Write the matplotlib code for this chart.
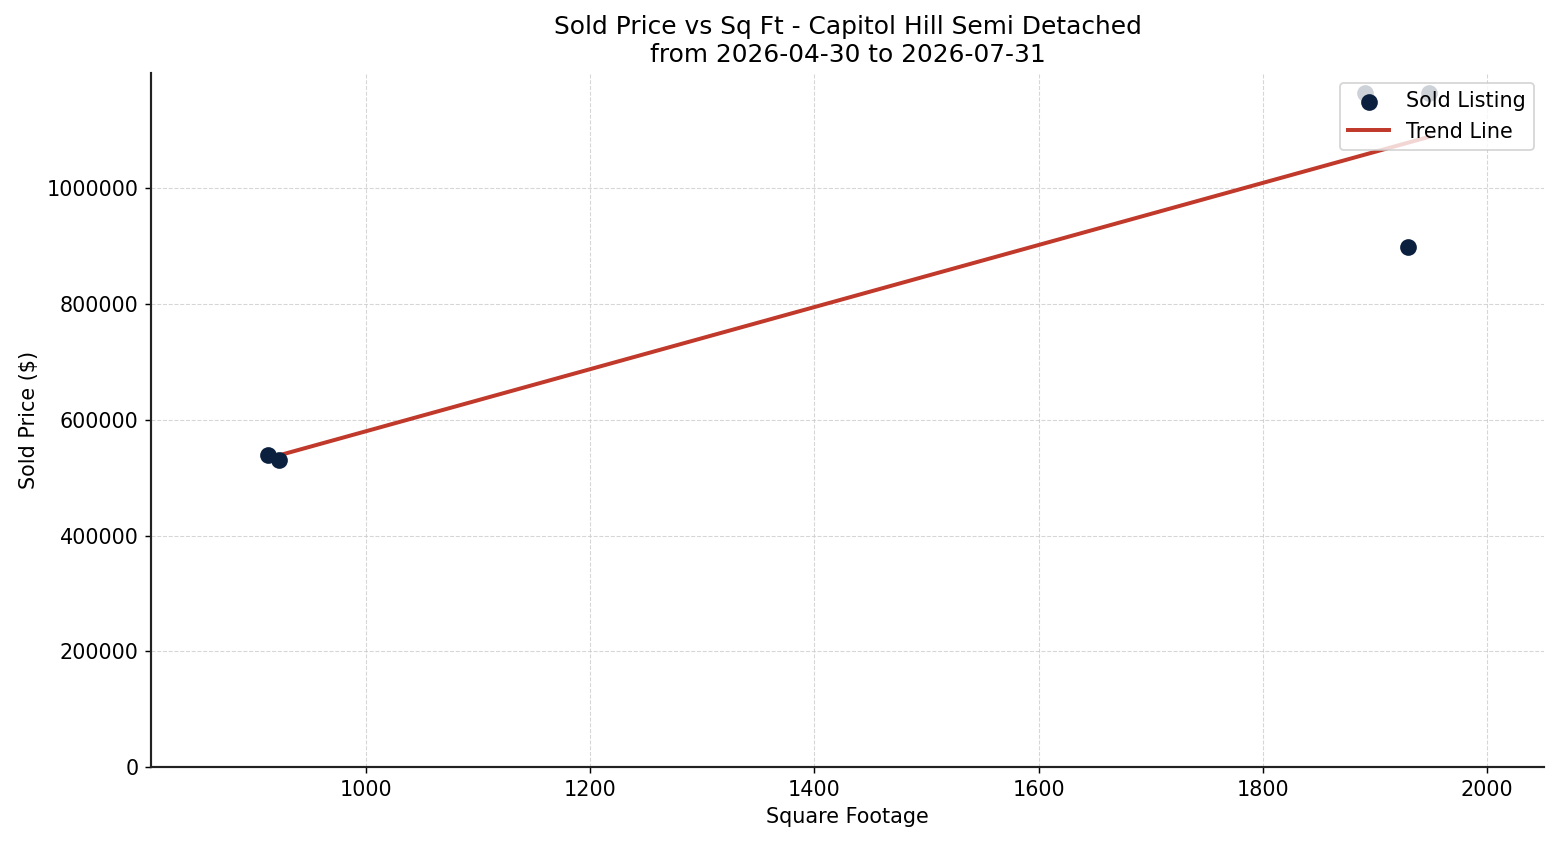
import matplotlib
matplotlib.use("Agg")
import matplotlib.pyplot as plt
import numpy as np

sqft = [913, 923, 1929, 1891, 1948]
price = [539000, 530000, 898000, 1164000, 1164000]
title = "Sold Price vs Sq Ft - Capitol Hill Semi Detached\nfrom 2026-04-30 to 2026-07-31"

fig, ax = plt.subplots(figsize=(12, 6.5), dpi=130)
ax.scatter(sqft, price, s=68, color="#0b1f3f", zorder=3, label="Sold Listing")
coef = np.polyfit(sqft, price, 1)
xs = np.array([min(sqft), max(sqft)])
ax.plot(xs, np.polyval(coef, xs), color="#c0392b", lw=2.2, zorder=2, label="Trend Line")

ax.set_xlim(min(sqft) - 104, max(sqft) + 103)
ax.set_ylim(0, max(price) * 1.03)
ax.ticklabel_format(style="plain", axis="y", useOffset=False)
ax.grid(True, linestyle="--", linewidth=0.6, color="#cccccc", alpha=0.8)
ax.set_axisbelow(True)
for s in ["top", "right"]:
    ax.spines[s].set_visible(False)
for s in ["left", "bottom"]:
    ax.spines[s].set_color("#222222")
    ax.spines[s].set_linewidth(1.2)
ax.tick_params(labelsize=11.5)
ax.set_xlabel("Square Footage", fontsize=11.5)
ax.set_ylabel("Sold Price ($)", fontsize=11.5)
ax.set_title(title, fontsize=13.8)
ax.legend(loc="upper right", fontsize=11.5)
fig.subplots_adjust(left=0.097, right=0.99, top=0.914, bottom=0.092)
fig.savefig("out.png", dpi=130)
